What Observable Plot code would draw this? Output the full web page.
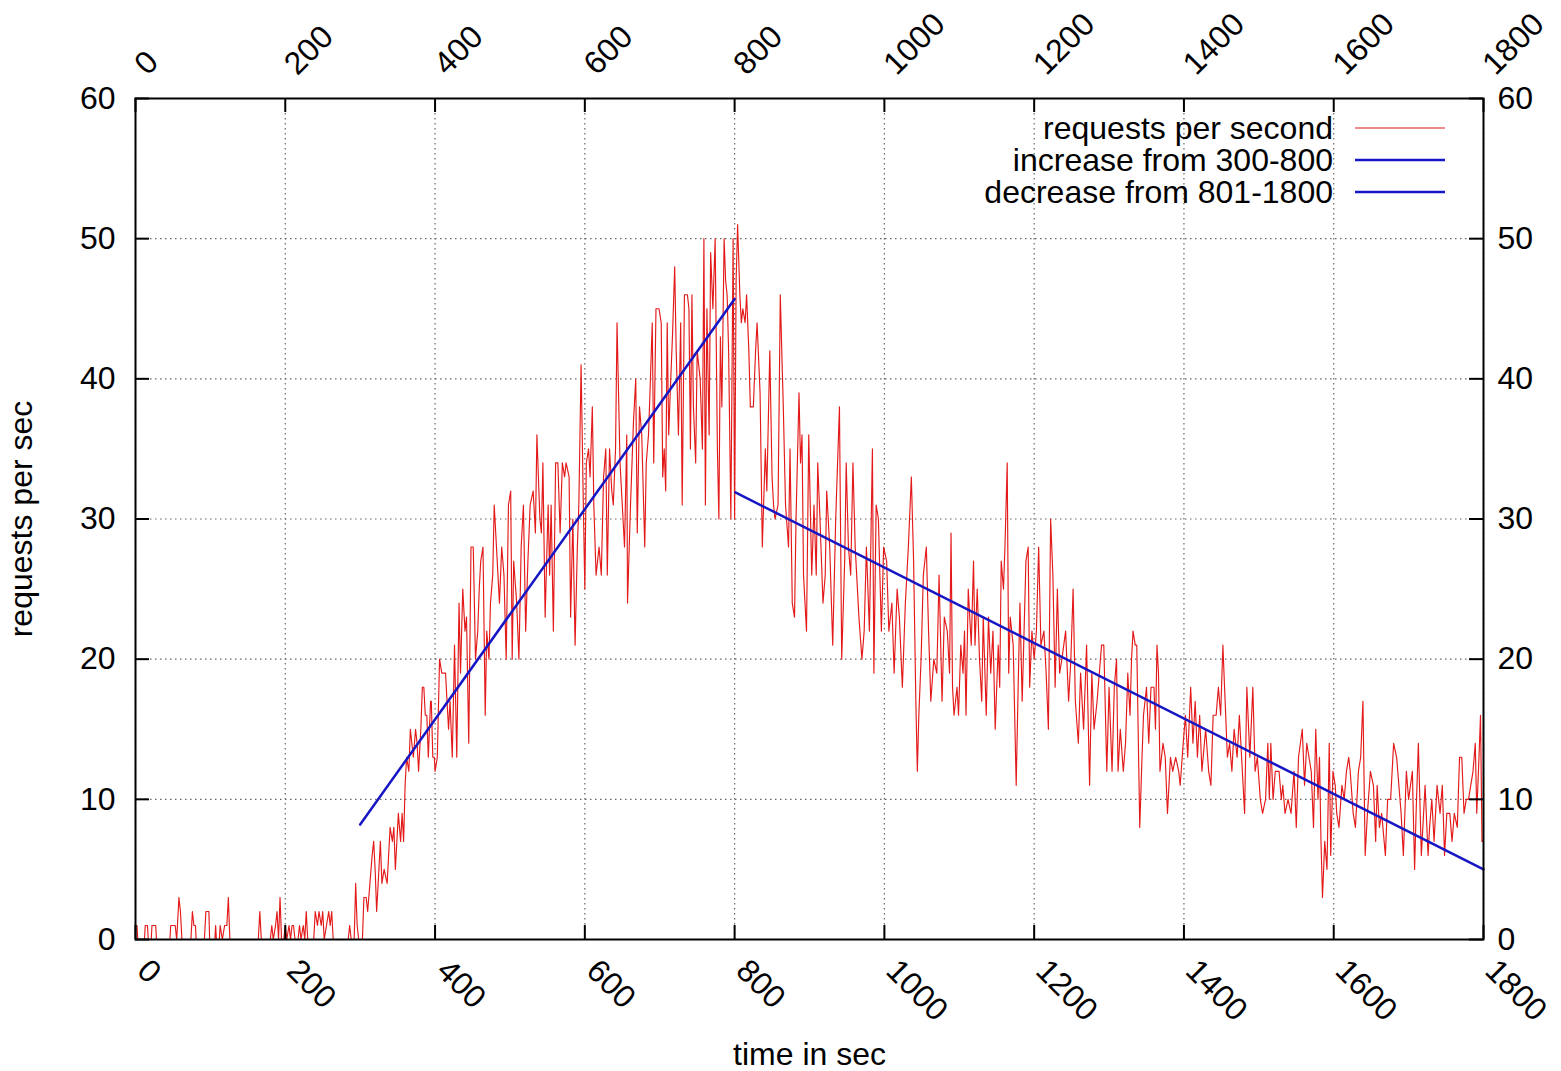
<!DOCTYPE html>
<html><head><meta charset="utf-8">
<script src="https://cdn.jsdelivr.net/npm/d3@7"></script>
<script src="https://cdn.jsdelivr.net/npm/@observablehq/plot@0.6"></script>
<style>html,body{margin:0;padding:0;background:#fff;} svg{display:block;}</style>
</head><body><div id="chart"></div>
<script>
// ---- data ----
const xTicks = [0, 200, 400, 600, 800, 1000, 1200, 1400, 1600, 1800];
const yTicks = [0, 10, 20, 30, 40, 50, 60];
const legendLabels = ["requests per second", "increase from 300-800", "decrease from 801-1800"];
const xLabel = "time in sec";
const yLabel = "requests per sec";

// [seconds, requests per second]
const idlePhase = [[0,1],[2,1],[3,0],[12,0],[13,1],[16,1],[17,0],[21,0],[22,1],[27,1],[28,0],[46,0],[47,1],[53,1],[55,0],[56,1],[58,3],[60,2],[62,0],[74,0],[76,2],[78,1],[80,1],[81,0],[92,0],[94,2],[98,2],[99,0],[106,0],[107,1],[108,0],[112,0],[113,1],[116,0],[119,1],[122,1],[124,3],[126,0],[164,0],[166,2],[168,0],[180,0],[182,1],[184,0],[187,1],[189,2],[191,0],[193,3],[195,0],[198,0],[200,1],[202,0],[205,1],[207,0],[209,1],[211,1],[213,0],[217,0],[219,1],[221,0],[224,1],[226,0],[228,2],[230,0],[238,0],[240,2],[243,1],[245,2],[248,1],[250,2],[252,0],[258,2],[260,1],[262,2],[264,0],[284,0],[286,1],[288,0],[292,0],[294,4],[296,1],[298,0],[303,0],[305,3],[308,3],[310,2]];

const risePhase = [[313,4],[316,6],[318,7],[320,5],[322,2],[325,5],[327,7],[329,4],[332,5],[336,4],[338,6],[340,8],[343,7],[345,8],[347,5],[349,7],[351,9],[354,7],[356,9],[358,7],[360,11],[362,13],[365,12],[367,15],[369,14],[371,13],[374,15],[376,14],[378,12],[381,15],[383,18],[385,18],[387,16],[389,16],[391,13],[394,17],[395,17],[397,13],[399,13],[400,12],[403,13],[406,20],[409,19],[412,19],[414,19],[416,17],[418,15],[420,17],[423,13],[426,21],[429,13],[432,24],[434,19],[437,25],[440,22],[442,23],[445,14],[448,28],[451,28],[454,20],[457,22],[459,25],[461,27],[464,28],[467,16],[469,22],[472,20],[474,24],[477,26],[479,31],[481,29],[483,27],[486,24],[489,28],[492,26],[495,20],[498,31],[501,32],[503,20],[505,27],[509,24],[512,20],[515,28],[518,31],[521,22],[524,27],[527,31],[531,32],[534,29],[536,36],[540,30],[542,29],[544,34],[547,23],[551,31],[553,26],[555,31],[558,22],[561,34],[564,34],[567,29],[570,34],[573,33],[575,34],[579,33],[581,23],[584,30],[587,21],[590,28],[592,31],[595,41],[598,31],[600,25],[602,34],[605,35],[607,33],[610,38],[612,31],[615,26],[619,28],[622,26],[625,33],[628,35],[630,26],[633,35],[636,32],[638,31],[641,35],[643,44],[647,34],[650,31],[653,28],[656,36],[657,24],[661,31],[665,37],[668,40],[670,29],[673,38],[676,36],[680,28],[682,34],[685,36],[687,39],[690,44],[692,34],[695,45],[699,45],[702,44],[704,33],[706,35],[708,32],[710,44],[712,36],[714,39],[717,43],[720,48],[722,42],[725,36],[728,44],[730,31],[733,46],[737,46],[739,45],[741,35],[743,46],[745,38],[748,34],[750,42],[754,40],[757,35],[759,50],[761,31],[763,45],[766,36],[768,49],[771,45],[774,50],[777,35],[779,30],[781,43],[783,38],[786,50],[788,47],[790,46],[792,42],[795,30],[798,50],[800,30]];

const decayPhase = [[802,47],[804,51],[807,46],[809,44],[811,45],[814,44],[816,46],[819,42],[821,38],[825,38],[828,42],[830,44],[834,39],[837,28],[841,35],[843,32],[847,42],[850,33],[852,31],[854,30],[858,31],[861,46],[865,38],[868,31],[872,28],[874,35],[877,24],[880,23],[882,30],[886,39],[888,34],[890,36],[892,26],[896,22],[899,36],[903,26],[906,31],[909,26],[911,34],[914,30],[918,24],[921,26],[923,32],[927,28],[931,21],[935,30],[940,38],[943,20],[947,27],[949,34],[952,28],[955,26],[958,34],[961,28],[966,23],[970,20],[973,22],[976,28],[980,22],[984,35],[986,19],[989,31],[992,30],[996,22],[999,28],[1003,27],[1006,22],[1010,24],[1013,19],[1017,25],[1020,23],[1024,18],[1028,24],[1032,28],[1036,33],[1039,27],[1042,17],[1044,12],[1046,16],[1049,20],[1052,26],[1056,28],[1059,22],[1062,17],[1066,20],[1070,19],[1073,26],[1077,17],[1080,23],[1084,22],[1087,19],[1089,29],[1091,18],[1093,16],[1097,18],[1099,16],[1102,21],[1105,19],[1107,22],[1109,16],[1112,25],[1116,21],[1119,27],[1121,21],[1124,25],[1127,20],[1130,17],[1132,23],[1136,16],[1139,23],[1142,19],[1145,22],[1148,15],[1152,21],[1154,18],[1156,27],[1159,25],[1161,28],[1164,34],[1166,19],[1168,23],[1172,21],[1176,11],[1179,19],[1181,24],[1184,17],[1187,23],[1189,27],[1192,28],[1194,18],[1197,22],[1200,20],[1203,22],[1206,28],[1209,21],[1213,22],[1216,19],[1219,15],[1222,30],[1225,26],[1228,18],[1231,25],[1234,19],[1237,20],[1242,22],[1246,17],[1249,20],[1252,25],[1255,17],[1259,14],[1262,19],[1266,15],[1270,21],[1274,11],[1277,19],[1280,15],[1284,17],[1287,19],[1290,21],[1293,21],[1297,12],[1300,18],[1304,12],[1307,18],[1310,20],[1312,12],[1315,15],[1319,12],[1322,14],[1325,19],[1328,16],[1330,20],[1332,22],[1335,21],[1337,21],[1341,8],[1344,13],[1346,16],[1350,18],[1353,14],[1356,18],[1360,18],[1362,15],[1364,21],[1366,19],[1368,12],[1372,14],[1375,13],[1378,9],[1382,13],[1385,12],[1389,13],[1393,12],[1395,11],[1399,14],[1402,16],[1405,13],[1409,18],[1412,14],[1415,17],[1418,13],[1421,16],[1424,12],[1429,15],[1433,12],[1436,11],[1439,16],[1443,16],[1446,18],[1449,16],[1452,21],[1455,17],[1458,13],[1461,14],[1464,12],[1467,15],[1471,13],[1474,16],[1477,13],[1481,9],[1484,18],[1488,13],[1492,18],[1495,12],[1498,13],[1502,10],[1505,9],[1509,10],[1512,14],[1514,10],[1516,14],[1519,10],[1522,12],[1527,12],[1530,10],[1532,11],[1535,9],[1539,10],[1543,9],[1547,12],[1550,8],[1553,13],[1558,15],[1561,11],[1564,14],[1567,13],[1570,12],[1573,8],[1576,15],[1579,10],[1581,13],[1583,7],[1585,3],[1588,7],[1591,5],[1594,14],[1596,6],[1599,12],[1602,11],[1604,9],[1607,8],[1611,11],[1614,10],[1617,12],[1620,13],[1622,12],[1626,9],[1629,8],[1633,12],[1636,13],[1639,17],[1642,6],[1645,9],[1649,12],[1653,11],[1656,7],[1658,11],[1661,8],[1664,9],[1669,6],[1672,10],[1676,10],[1680,14],[1684,13],[1687,11],[1690,9],[1693,6],[1697,12],[1700,10],[1705,12],[1708,5],[1710,9],[1713,14],[1717,6],[1719,8],[1722,11],[1726,6],[1728,8],[1731,10],[1734,7],[1738,11],[1742,9],[1745,11],[1748,6],[1751,9],[1755,9],[1758,7],[1761,9],[1765,8],[1768,13],[1771,13],[1774,9],[1777,10],[1780,10],[1783,11],[1786,12],[1789,14],[1791,9],[1794,13],[1796,16],[1798,7],[1800,7]];

// linear fits
const increaseFit = [[300, 8.2], [800, 45.7]];
const decreaseFit = [[801, 31.9], [1800, 5.0]];

// ---- layout / style ----
const W = 1561, H = 1071, mL = 135, mR = 78, mT = 98, mB = 132;
const frameW = W - mL - mR, frameH = H - mT - mB;
const FONT = "'Liberation Sans', Arial, Helvetica, sans-serif";
const FS = 32;
const RED = "#e41a1a", BLUE = "#1616c4";
const TICK = 14;

const requests = [...idlePhase, ...risePhase, ...decayPhase];
const fx = d => d[0], fy = d => d[1];

const chart = Plot.plot({
  width: W, height: H,
  marginLeft: mL, marginRight: mR, marginTop: mT, marginBottom: mB,
  style: {fontFamily: FONT, background: "white", color: "black"},
  x: {domain: [0, 1800], axis: null},
  y: {domain: [0, 60], axis: null},
  marks: [
    Plot.gridX(xTicks, {stroke: "#666", strokeOpacity: 1, strokeWidth: 1.2, strokeDasharray: "1.5,3.5"}),
    Plot.gridY(yTicks, {stroke: "#666", strokeOpacity: 1, strokeWidth: 1.2, strokeDasharray: "1.5,3.5"}),
    Plot.line(requests, {x: fx, y: fy, stroke: RED, strokeWidth: 1.15}),
    Plot.line(increaseFit, {x: fx, y: fy, stroke: BLUE, strokeWidth: 2.5}),
    Plot.line(decreaseFit, {x: fx, y: fy, stroke: BLUE, strokeWidth: 2.5}),
    Plot.tickX(xTicks, {x: d => d, insetTop: frameH - TICK, stroke: "black", strokeWidth: 2}),
    Plot.tickX(xTicks, {x: d => d, insetBottom: frameH - TICK, stroke: "black", strokeWidth: 2}),
    Plot.tickY(yTicks, {y: d => d, insetRight: frameW - TICK, stroke: "black", strokeWidth: 2}),
    Plot.tickY(yTicks, {y: d => d, insetLeft: frameW - TICK, stroke: "black", strokeWidth: 2}),
    Plot.frame({stroke: "black", strokeWidth: 2}),
    Plot.text(xTicks, {x: d => d, frameAnchor: "bottom", text: d => String(d), rotate: 45,
      textAnchor: "start", lineAnchor: "bottom", dx: 0, dy: 33, fontSize: FS, fill: "black"}),
    Plot.text(xTicks, {x: d => d, frameAnchor: "top", text: d => String(d), rotate: -45,
      textAnchor: "start", lineAnchor: "bottom", dx: 12, dy: -22, fontSize: FS, fill: "black"}),
    Plot.text(yTicks, {y: d => d, frameAnchor: "left", text: d => String(d),
      textAnchor: "end", lineAnchor: "middle", dx: -20, fontSize: FS, fill: "black"}),
    Plot.text(yTicks, {y: d => d, frameAnchor: "right", text: d => String(d),
      textAnchor: "start", lineAnchor: "middle", dx: 14, fontSize: FS, fill: "black"}),
    Plot.text([yLabel], {frameAnchor: "left", text: d => d, rotate: -90, textAnchor: "middle",
      lineAnchor: "bottom", dx: -104, fontSize: FS, fill: "black"}),
    Plot.text([xLabel], {frameAnchor: "bottom", text: d => d, textAnchor: "middle",
      lineAnchor: "bottom", dy: 125, fontSize: FS, fill: "black"})
  ]
});

// legend (inside top-right of the frame)
const svg = d3.select(chart);
const legendColors = [RED, BLUE, BLUE];
const legendWidths = [1.1, 2.5, 2.5];
const lg = svg.append("g");
legendLabels.forEach((lab, i) => {
  const cy = mT + 30 + i * 32;
  const textX = W - mR - 150;
  lg.append("text").attr("x", textX).attr("y", cy).attr("dy", "0.35em")
    .attr("text-anchor", "end").attr("font-family", FONT).attr("font-size", FS)
    .attr("fill", "black").text(lab);
  lg.append("line").attr("x1", textX + 22).attr("x2", textX + 112)
    .attr("y1", cy).attr("y2", cy)
    .attr("stroke", legendColors[i]).attr("stroke-width", legendWidths[i]);
});

document.getElementById("chart").appendChild(chart);
</script>
</body></html>
